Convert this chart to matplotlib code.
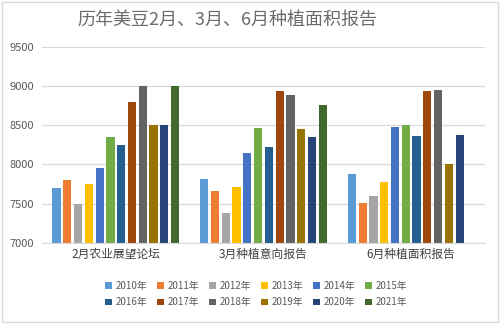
import numpy as np
import matplotlib.pyplot as plt
from matplotlib.patches import Rectangle

plt.rcParams['font.family'] = ['Noto Sans CJK SC', 'DejaVu Sans']

categories = ['2月农业展望论坛', '3月种植意向报告', '6月种植面积报告']
years = ['2010年', '2011年', '2012年', '2013年', '2014年', '2015年',
         '2016年', '2017年', '2018年', '2019年', '2020年', '2021年']
# one row per year: Feb outlook, Mar intentions, Jun acreage
values = [
    [7700, 7810, 7880],
    [7800, 7660, 7510],
    [7500, 7385, 7600],
    [7750, 7705, 7770],
    [7950, 8150, 8480],
    [8350, 8470, 8500],
    [8250, 8220, 8360],
    [8800, 8940, 8940],
    [9000, 8890, 8950],
    [8500, 8450, 8000],
    [8500, 8350, 8380],
    [9000, 8760, np.nan],
]
colors = ['#5B9BD5', '#ED7D31', '#A5A5A5', '#FFC000', '#4472C4', '#70AD47',
          '#255E91', '#9E480E', '#636363', '#997300', '#264478', '#43682B']

fig = plt.figure(figsize=(5, 3.24), dpi=100)
ax = fig.add_axes([0.084, 0.251, 0.886, 0.604])

x = np.arange(len(categories))
step = 0.073
width = 0.056
bars = []
for i, (yr, vals, c) in enumerate(zip(years, values, colors)):
    off = (i - (len(years) - 1) / 2) * step
    b = ax.bar(x + off, np.array(vals) - 7000, width, bottom=7000, color=c,
               label=yr, zorder=3)
    bars.append(b)

ax.set_xlim(-0.5, 2.5)
ax.set_ylim(7000, 9500)
ax.set_yticks(np.arange(7000, 9501, 500))
ax.set_xticks(x)
ax.set_xticklabels(categories, fontsize=8.5, color='#404040')
ax.tick_params(axis='y', labelsize=8, colors='#595959', length=0, pad=6)
ax.tick_params(axis='x', length=0, pad=4)
ax.grid(axis='y', color='#D9D9D9', linewidth=0.9, zorder=0)
for s in ['top', 'right', 'left']:
    ax.spines[s].set_visible(False)
ax.spines['bottom'].set_color('#D9D9D9')
ax.spines['bottom'].set_zorder(4)

fig.text(0.455, 0.94, '历年美豆2月、3月、6月种植面积报告', ha='center', va='center',
         fontsize=13, color='#6b6b6b', fontweight='light')

# legend fills column by column, so interleave to get 6 per row
order = [0, 6, 1, 7, 2, 8, 3, 9, 4, 10, 5, 11]
fig.legend([bars[i] for i in order], [years[i] for i in order],
           loc='center', bbox_to_anchor=(0.512, 0.092), ncol=6, fontsize=7,
           frameon=False, handlelength=0.7, handleheight=0.7, handletextpad=0.4,
           columnspacing=1.0, labelspacing=0.65, labelcolor='#595959')

fig.patches.append(Rectangle((0.004, 0.006), 0.992, 0.988, transform=fig.transFigure,
                             fill=False, edgecolor='#D9D9D9', linewidth=1))

fig.savefig('out.png', dpi=100)
